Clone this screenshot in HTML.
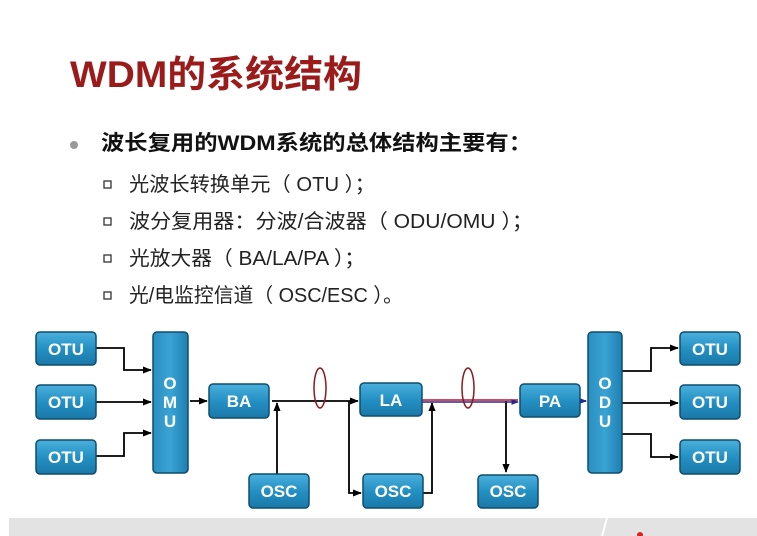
<!DOCTYPE html>
<html><head><meta charset="utf-8"><style>
html,body{margin:0;padding:0;background:#fff;}
body{width:757px;height:536px;overflow:hidden;position:relative;font-family:"Liberation Sans","Noto Sans CJK SC",sans-serif;}
</style></head><body>
<svg width="757" height="536" viewBox="0 0 757 536" xmlns="http://www.w3.org/2000/svg" style="position:absolute;left:0;top:0">
<defs>
<linearGradient id="g" x1="0" y1="0" x2="0" y2="1">
<stop offset="0" stop-color="#4bb0dc"/><stop offset="0.5" stop-color="#2490c4"/><stop offset="1" stop-color="#1a78a8"/>
</linearGradient>
<linearGradient id="gv" x1="0" y1="0" x2="1" y2="0">
<stop offset="0" stop-color="#2a8fc0"/><stop offset="0.5" stop-color="#3aa3d4"/><stop offset="1" stop-color="#1e7fb0"/>
</linearGradient>
<marker id="a" viewBox="0 0 10 10" refX="9" refY="5" markerWidth="5" markerHeight="5" orient="auto"><path d="M0,1 L10,5 L0,9z" fill="#000"/></marker>
<marker id="ab" viewBox="0 0 10 10" refX="9" refY="5" markerWidth="5" markerHeight="5" orient="auto"><path d="M0,1 L10,5 L0,9z" fill="#2a2a8a"/></marker>
</defs>
<text x="70" y="87" font-size="37" font-weight="bold" fill="#9b1b1b" textLength="292" lengthAdjust="spacingAndGlyphs" font-family="Liberation Sans,Noto Sans CJK SC,sans-serif">WDM的系统结构</text>
<circle cx="74" cy="145" r="4" fill="#999"/>
<text x="101" y="150" font-size="21" font-weight="bold" fill="#111" textLength="431" lengthAdjust="spacingAndGlyphs" font-family="Liberation Sans,Noto Sans CJK SC,sans-serif">波长复用的WDM系统的总体结构主要有：</text>
<g font-size="20" fill="#222" font-family="Liberation Sans,Noto Sans CJK SC,sans-serif">
<rect x="104" y="181" width="7" height="7" fill="none" stroke="#333" stroke-width="1.3"/>
<text x="129" y="191" textLength="246" lengthAdjust="spacingAndGlyphs">光波长转换单元（ OTU ）；</text>
<rect x="104" y="218" width="7" height="7" fill="none" stroke="#333" stroke-width="1.3"/>
<text x="129" y="228" textLength="404" lengthAdjust="spacingAndGlyphs">波分复用器：分波/合波器（ ODU/OMU ）；</text>
<rect x="104" y="255" width="7" height="7" fill="none" stroke="#333" stroke-width="1.3"/>
<text x="129" y="265" textLength="236" lengthAdjust="spacingAndGlyphs">光放大器（ BA/LA/PA ）；</text>
<rect x="104" y="292" width="7" height="7" fill="none" stroke="#333" stroke-width="1.3"/>
<text x="129" y="302" textLength="274" lengthAdjust="spacingAndGlyphs">光/电监控信道（ OSC/ESC ）。</text>
</g>
<rect x="9" y="518" width="748" height="18" fill="#e3e3e3"/>
<path d="M601,536 L606,518 L608,518 L603,536z" fill="#fff"/>
<circle cx="640" cy="535" r="3" fill="#d22"/>
<g stroke="#000" stroke-width="1.8" fill="none">
<path d="M96,348 H124 V370 H151" marker-end="url(#a)"/>
<path d="M96,402 H151" marker-end="url(#a)"/>
<path d="M96,456 H124 V433 H151" marker-end="url(#a)"/>
<path d="M190,401 H207" marker-end="url(#a)"/>
<path d="M272,401 H358" marker-end="url(#a)"/>
<path d="M277,474 V403" marker-end="url(#a)"/>
<path d="M349,401 V493 H361" marker-end="url(#a)"/>
<path d="M423,493 H432 V403" marker-end="url(#a)"/>
<path d="M506,401 V472" marker-end="url(#a)"/>
<path d="M622,371 H651 V348 H678" marker-end="url(#a)"/>
<path d="M622,403 H678" marker-end="url(#a)"/>
<path d="M622,434 H651 V457 H678" marker-end="url(#a)"/>
</g>
<path d="M422,400 H518" stroke="#c0102a" stroke-width="1.5" fill="none"/>
<path d="M422,402 H518" stroke="#2a2a8a" stroke-width="1.5" fill="none" marker-end="url(#ab)"/>
<path d="M580,401 H586" stroke="#2a2a8a" stroke-width="2" fill="none" marker-end="url(#ab)"/>
<ellipse cx="320" cy="388" rx="6" ry="20" fill="none" stroke="#8b1a1a" stroke-width="1.5"/>
<ellipse cx="468" cy="388" rx="6" ry="20" fill="none" stroke="#8b1a1a" stroke-width="1.5"/>
<g stroke="#0e4d6e" stroke-width="1.5" fill="url(#g)">
<rect x="36" y="332" width="60" height="33" rx="4"/>
<rect x="36" y="385" width="60" height="34" rx="4"/>
<rect x="36" y="440" width="60" height="34" rx="4"/>
<rect x="680" y="332" width="60" height="33" rx="4"/>
<rect x="680" y="385" width="60" height="34" rx="4"/>
<rect x="680" y="440" width="60" height="34" rx="4"/>
<rect x="209" y="384" width="60" height="34" rx="4"/>
<rect x="360" y="383" width="62" height="33" rx="4"/>
<rect x="520" y="384" width="60" height="33" rx="4"/>
<rect x="249" y="474" width="60" height="34" rx="4"/>
<rect x="363" y="474" width="60" height="34" rx="4"/>
<rect x="478" y="475" width="60" height="33" rx="4"/>
<rect x="153" y="332" width="35" height="141" rx="4" fill="url(#gv)"/>
<rect x="588" y="332" width="34" height="141" rx="4" fill="url(#gv)"/>
</g>
<g fill="#fff" font-size="17" font-weight="bold" text-anchor="middle" font-family="Liberation Sans,sans-serif">
<text x="66" y="355">OTU</text><text x="66" y="408">OTU</text><text x="66" y="463">OTU</text>
<text x="710" y="355">OTU</text><text x="710" y="408">OTU</text><text x="710" y="463">OTU</text>
<text x="239" y="407">BA</text><text x="391" y="406">LA</text><text x="550" y="407">PA</text>
<text x="279" y="497">OSC</text><text x="393" y="497">OSC</text><text x="508" y="497">OSC</text>
<text x="170" y="389">O</text><text x="170" y="408">M</text><text x="170" y="427">U</text>
<text x="605" y="389">O</text><text x="605" y="408">D</text><text x="605" y="427">U</text>
</g>
</svg>
</body></html>
